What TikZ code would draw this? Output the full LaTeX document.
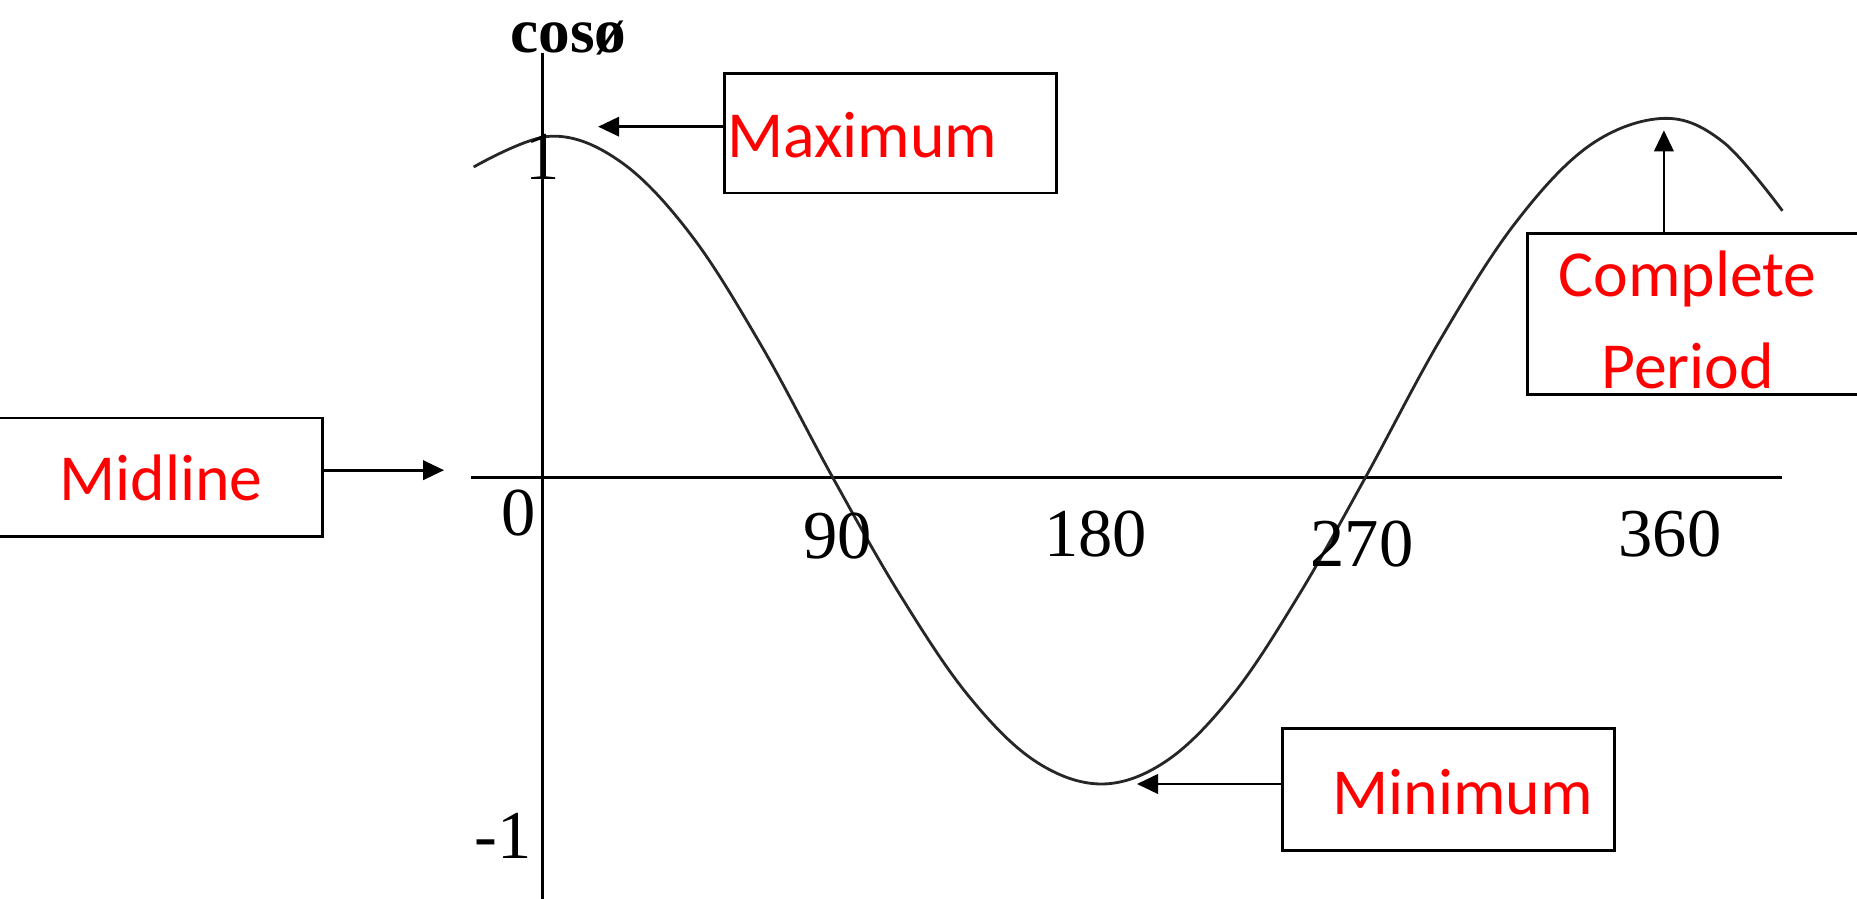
\documentclass[tikz,border=0pt]{standalone}
\usepackage{fontspec}
\setmainfont{Liberation Serif}
\newfontfamily\calibfont{Carlito}
\usetikzlibrary{arrows.meta}

\tikzset{
  notebox/.style={draw, line width=0.8pt, rectangle, inner sep=0pt},
  notetext/.style={text=red, font=\calibfont\fontsize{18.7}{22}\selectfont, inner sep=0pt, anchor=base},
  ticklbl/.style={font=\fontsize{19.5}{22}\selectfont, inner sep=0pt, anchor=base},
  pointer/.style={line width=0.8pt, -{Triangle[length=6pt,width=5.5pt]}}
}

\begin{document}
\begin{tikzpicture}
  \clip (-5.424,-4.217) rectangle (13.146,4.773);

  % axes
  \draw[line width=0.9pt] (-0.711,0) -- (12.4,0);
  \draw[line width=0.8pt] (0,4.24) -- (0,-4.3);
  \node[font=\bfseries\fontsize{18}{20}\selectfont, inner sep=0pt, anchor=base] (ylbl) at (0.26,4.25) {cosø};

  % the curve
  \draw[line width=0.8pt, black!85] plot[smooth, tension=0.6] coordinates {(-0.687,3.103) (0.083,3.411) (0.788,3.151) (1.492,2.416) (2.197,1.303) (2.902,0) (3.574,-1.172) (4.246,-2.167) (4.915,-2.830) (5.590,-3.067) (6.250,-2.830) (6.910,-2.167) (7.568,-1.172) (8.231,0) (8.977,1.374) (9.723,2.535) (10.469,3.316) (11.215,3.589) (11.808,3.352) (12.400,2.665)};

  \node[ticklbl] (t0) at (-0.237,-0.58) {0};
  \node[ticklbl] (t90) at (2.949,-0.817) {90};
  \node[ticklbl] (t180) at (5.531,-0.793) {180};
  \node[ticklbl] (t270) at (8.195,-0.888) {270};
  \node[ticklbl] (t360) at (11.275,-0.793) {360};
  \node[ticklbl] (tone) at (0,2.973) {1};
  \node[ticklbl] (tmone) at (-0.391,-3.813) {-1};

  % boxes
  \node[notebox, minimum width=3.316cm, minimum height=1.196cm] (maxbox) at (3.482,3.441) {};
  \node[notebox, minimum width=3.697cm, minimum height=1.184cm] (midbox) at (-4.0515,0) {};
  \node[notebox, minimum width=3.747cm, minimum height=1.611cm] (cpbox) at (11.7265,1.6345) {};
  \node[notebox, minimum width=3.316cm, minimum height=1.22cm] (minbox) at (9.06,-3.12) {};

  \node[notetext] (maxlbl) at (3.198,3.198) {Maximum};
  \node[notetext] (midlbl) at (-3.813,-0.237) {Midline};
  \node[notetext] (cplbla) at (11.452,1.812) {Complete};
  \node[notetext] (cplblb) at (11.452,0.889) {Period};
  \node[notetext] (minlbl) at (9.202,-3.375) {Minimum};

  % pointers
  \coordinate (maxtip) at (0.557,3.506);
  \coordinate (midtip) at (-0.983,0.071);
  \coordinate (cptip) at (11.215,3.47);
  \coordinate (mintip) at (5.945,-3.067);
  \draw[pointer] (maxbox.west |- maxtip) -- (maxtip);
  \draw[pointer] (midbox.east |- midtip) -- (midtip);
  \draw[pointer] (cptip |- cpbox.north) -- (cptip);
  \draw[pointer] (minbox.west |- mintip) -- (mintip);
\end{tikzpicture}
\end{document}
